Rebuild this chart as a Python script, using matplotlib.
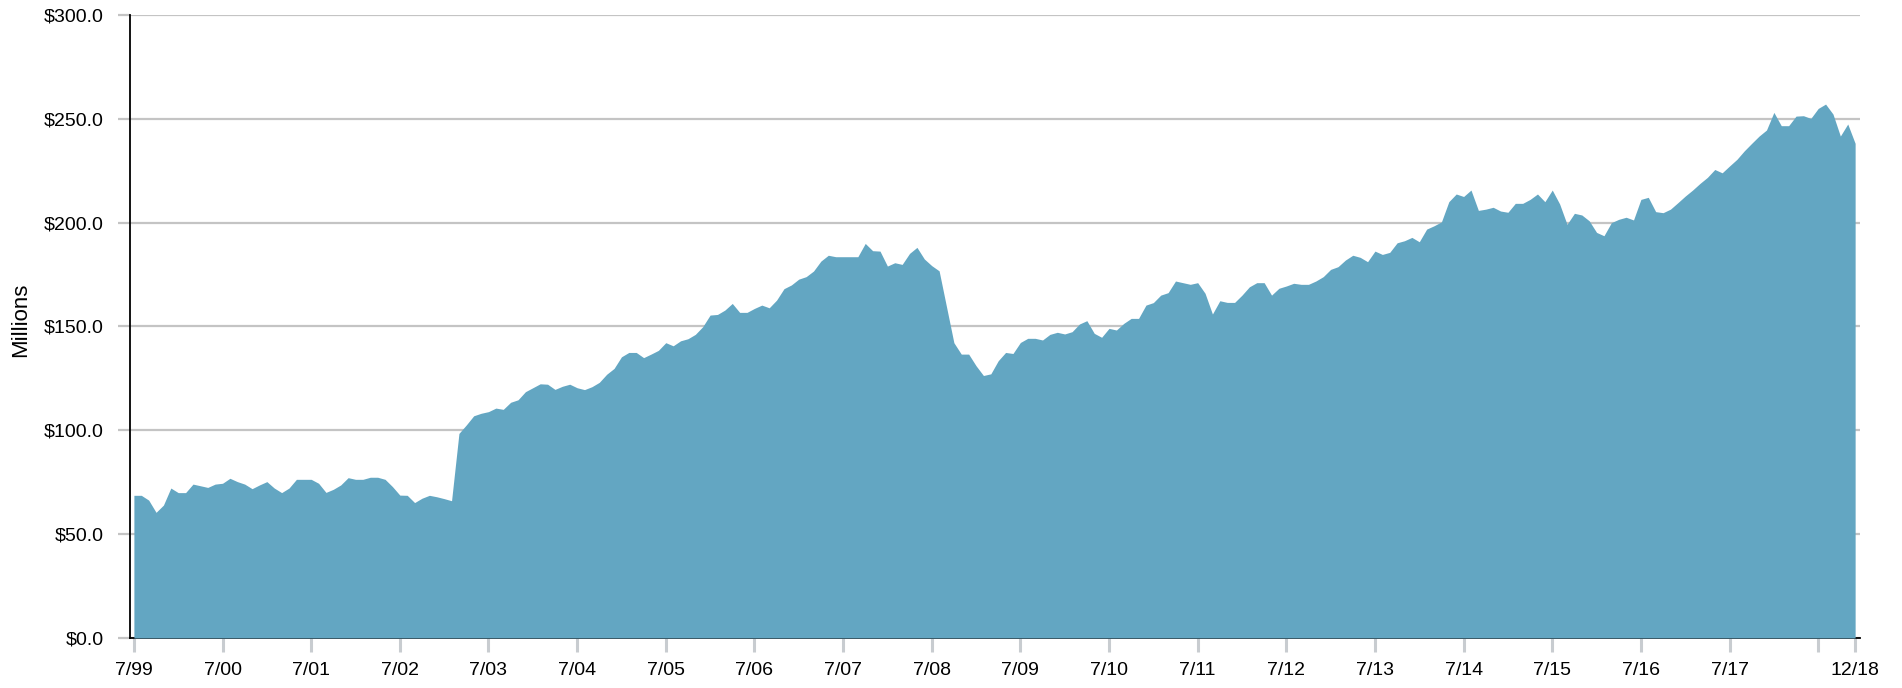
import matplotlib.pyplot as plt
import numpy as np

# monthly values, 7/99 .. 12/18 (millions)
values = [
    68.7, 68.7, 66.4, 60.5, 64.0, 72.2, 70.0, 70.0, 74.1, 73.3, 72.5, 74.1,
    74.5, 76.9, 75.3, 74.1, 71.9, 73.7, 75.3, 72.2, 70.0, 72.2, 76.4, 76.4,
    76.4, 74.5, 70.1, 71.6, 73.7, 77.2, 76.4, 76.4, 77.4, 77.4, 76.4, 72.9,
    68.8, 68.7, 65.2, 67.3, 68.7, 68.0, 67.1, 66.1, 98.5, 102.6, 107.0, 108.2,
    109.0, 110.7, 110.1, 113.5, 114.7, 118.6, 120.5, 122.4, 122.2, 119.7, 121.2, 122.2,
    120.5, 119.6, 121.0, 123.1, 127.0, 129.8, 135.4, 137.5, 137.5, 135.0, 136.7, 138.5,
    142.2, 140.7, 143.1, 144.1, 146.2, 149.9, 155.5, 155.8, 157.9, 161.1, 156.8, 156.8,
    158.7, 160.3, 159.0, 162.7, 168.2, 170.0, 172.8, 174.0, 176.7, 181.5, 184.3, 183.6,
    183.6, 183.6, 183.6, 190.0, 186.5, 186.3, 179.1, 180.7, 179.9, 185.2, 188.1, 182.5,
    179.3, 176.8, 159.5, 142.2, 136.7, 136.7, 131.1, 126.4, 127.2, 133.5, 137.5, 137.0,
    142.3, 144.3, 144.3, 143.5, 146.2, 147.2, 146.4, 147.5, 151.2, 152.8, 146.7, 144.8,
    149.1, 148.3, 151.5, 153.9, 153.9, 160.3, 161.5, 165.1, 166.3, 171.9, 171.1, 170.3,
    171.1, 166.0, 156.0, 162.4, 161.6, 161.6, 165.1, 169.1, 171.1, 171.1, 165.1, 168.4,
    169.5, 170.8, 170.3, 170.3, 171.9, 174.0, 177.5, 178.8, 182.0, 184.3, 183.3, 181.2,
    186.3, 184.7, 185.7, 190.3, 191.3, 192.9, 190.8, 196.9, 198.5, 200.4, 210.1, 213.8,
    212.6, 215.7, 205.9, 206.5, 207.4, 205.6, 205.0, 209.3, 209.3, 211.2, 213.8, 210.1,
    215.7, 209.0, 199.2, 204.5, 203.7, 200.9, 195.3, 193.7, 200.0, 201.6, 202.6, 201.3,
    211.2, 212.2, 205.3, 204.8, 206.5, 209.6, 212.8, 215.7, 218.9, 221.8, 225.6, 224.0,
    227.3, 230.5, 234.6, 238.2, 241.7, 244.6, 253.1, 246.7, 246.7, 251.3, 251.5, 250.2,
    255.0, 257.1, 252.3, 241.7, 247.5, 238.2,
]
tick_months = [0, 12, 24, 36, 48, 60, 72, 84, 96, 108, 120, 132, 144, 156, 168,
               180, 192, 204, 216, 228, 233]
tick_labels = ["7/99", "7/00", "7/01", "7/02", "7/03", "7/04", "7/05", "7/06",
               "7/07", "7/08", "7/09", "7/10", "7/11", "7/12", "7/13", "7/14",
               "7/15", "7/16", "7/17", "", "12/18"]
y_ticks = [0, 50, 100, 150, 200, 250, 300]

plt.rcParams['font.family'] = ['Liberation Sans', 'DejaVu Sans']

fig = plt.figure(figsize=(19.02, 6.88), dpi=100)
ax = fig.add_axes([0.0683, 0.0727, 0.9097, 0.9055])

x = np.arange(len(values))
ax.fill_between(x, values, 0, color='#63a6c2', linewidth=0, zorder=3)

ax.set_yticks(y_ticks)
ax.set_yticklabels([f"${v:.1f}" for v in y_ticks])
ax.set_xticks(tick_months)
ax.set_xticklabels(tick_labels)
ax.set_xlim(-0.54, 233.68)
ax.set_ylim(0, 300)

ax.grid(axis='y', color='#c4c4c4', linewidth=1.6, zorder=0)
ax.set_axisbelow(True)

ax.tick_params(axis='y', length=8.6, width=1.6, color='#c4c4c4', labelsize=14, pad=10)
ax.tick_params(axis='x', length=10, width=2.2, color='#c8ccd0', labelsize=14, pad=7)

for s in ['top', 'right']:
    ax.spines[s].set_visible(False)
ax.spines['left'].set_linewidth(1.3)
ax.spines['left'].set_zorder(4)
ax.spines['bottom'].set_linewidth(1.3)
ax.spines['bottom'].set_zorder(2.5)

# axis title placed in figure pixels
fig.text(20.5 / 1902, 1 - 320 / 688, "Millions", rotation=90, fontsize=16,
         ha='center', va='center')

fig.savefig("out.png", dpi=100)
